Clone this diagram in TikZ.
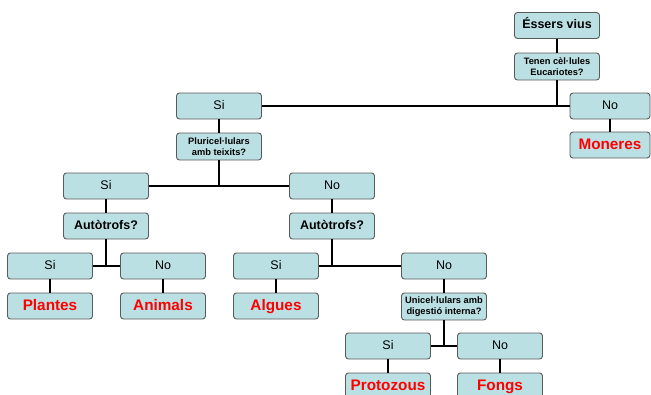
\documentclass[tikz,border=0pt]{standalone}
\usepackage{fontspec}
\setmainfont{Liberation Sans}
\definecolor{boxfill}{HTML}{BBE0E3}
\definecolor{boxline}{HTML}{5A5A5A}
\definecolor{namered}{HTML}{FF0000}
\tikzset{
  mybox/.style={draw=boxline,line width=0.9pt,fill=boxfill,rounded corners=3pt,
    minimum width=85pt,minimum height=26pt,inner sep=1pt,align=center},
  ansbox/.style={mybox,font=\fontsize{12.5}{14}\selectfont,text height=9pt,text depth=2.5pt},
  questbox/.style={mybox,font=\bfseries\fontsize{12.5}{14}\selectfont,text height=9pt,text depth=2.5pt},
  smallbox/.style={mybox,font=\bfseries\fontsize{9.3}{11.2}\selectfont,minimum height=27pt},
  namebox/.style={mybox,text=namered,font=\bfseries\fontsize{15.3}{17}\selectfont,text height=11pt,text depth=3pt},
  link/.style={line width=2pt,black}
}
\begin{document}
\begin{tikzpicture}[x=1pt,y=-1pt]
\useasboundingbox (0,0) rectangle (651,394);
\clip (0,0) rectangle (651,394);
% level 0
\node[questbox] (ev) at (557,25.5) {Éssers vius};
\node[smallbox] (q1) at (557,66.5) {Tenen cèl·lules\\Eucariotes?};
\node[ansbox] (si1) at (219,106) {Si};
\node[ansbox,minimum width=80pt] (no1) at (610,106) {No};
\node[namebox,minimum width=80pt] (mon) at (610,145) {Moneres};
% level 1
\node[smallbox] (q2) at (219,146.5) {Pluricel·lulars\\amb teixits?};
\node[ansbox] (si2) at (106,186) {Si};
\node[ansbox] (no2) at (332,186) {No};
\node[questbox] (al) at (106,226) {Autòtrofs?};
\node[questbox] (ar) at (332,226) {Autòtrofs?};
% level 2
\node[ansbox] (si3) at (50,266) {Si};
\node[ansbox] (no3) at (163,266) {No};
\node[ansbox] (si4) at (276,266) {Si};
\node[ansbox] (no4) at (444,266) {No};
\node[namebox] (pl) at (50,306) {Plantes};
\node[namebox] (an) at (163,306) {Animals};
\node[namebox] (alg) at (276,306) {Algues};
\node[smallbox] (q3) at (444,306.5) {Unicel·lulars amb\\digestió interna?};
% level 3
\node[ansbox] (si5) at (388,346) {Si};
\node[ansbox] (no5) at (500,346) {No};
\node[namebox] (pro) at (388,386) {Protozous};
\node[namebox] (fon) at (500,386) {Fongs};
% connectors
\draw[link] (ev.south) -- (q1.north);
\draw[link] (q1.south) -- (q1.south |- si1.east);
\draw[link] (si1.east) -- (no1.west);
\draw[link] (no1.south) -- (mon.north);
\draw[link] (si1.south) -- (q2.north);
\draw[link] (q2.south) -- (q2.south |- si2.east);
\draw[link] (si2.east) -- (no2.west);
\draw[link] (si2.south) -- (al.north);
\draw[link] (no2.south) -- (ar.north);
\draw[link] (al.south) -- (al.south |- si3.east);
\draw[link] (si3.east) -- (no3.west);
\draw[link] (ar.south) -- (ar.south |- si4.east);
\draw[link] (si4.east) -- (no4.west);
\draw[link] (si3.south) -- (pl.north);
\draw[link] (no3.south) -- (an.north);
\draw[link] (si4.south) -- (alg.north);
\draw[link] (no4.south) -- (q3.north);
\draw[link] (q3.south) -- (q3.south |- si5.east);
\draw[link] (si5.east) -- (no5.west);
\draw[link] (si5.south) -- (pro.north);
\draw[link] (no5.south) -- (fon.north);
\end{tikzpicture}
\end{document}
